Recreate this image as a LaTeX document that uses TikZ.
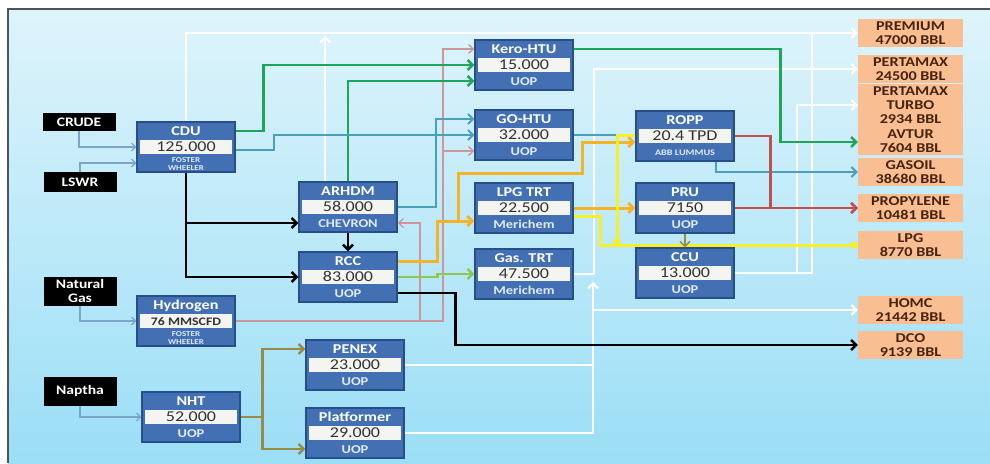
\documentclass[tikz,border=0pt]{standalone}
\usepackage{fontspec}
\setmainfont{Carlito}[FakeStretch=1.2]
\usepackage{tikz}
\usetikzlibrary{arrows.meta}

\definecolor{unitblue}{RGB}{66,112,178}
\definecolor{unitedge}{RGB}{38,78,138}
\definecolor{unitwhite}{RGB}{244,244,240}
\definecolor{valtext}{RGB}{50,50,50}
\definecolor{vendtext}{RGB}{225,235,250}
\definecolor{outorange}{RGB}{249,190,145}
\definecolor{outtext}{RGB}{70,35,15}
\definecolor{bgtop}{RGB}{222,244,251}
\definecolor{bgbottom}{RGB}{155,222,246}
\definecolor{framegray}{RGB}{75,85,90}
\definecolor{feedblue}{RGB}{120,165,200}
\definecolor{kerogreen}{RGB}{30,165,90}
\definecolor{goteal}{RGB}{75,160,185}
\definecolor{hpink}{RGB}{205,150,155}
\definecolor{lpgorange}{RGB}{245,180,40}
\definecolor{lpgyellow}{RGB}{245,240,40}
\definecolor{propred}{RGB}{190,80,78}
\definecolor{naphtholive}{RGB}{150,140,70}
\definecolor{gasgreen}{RGB}{140,200,80}

% process unit: blue box, name band, capacity band, licensor band
\newcommand{\procunit}[6][]{%
  \node[unit] (#2) at (#3) {};
  \node[unittitle] at ([yshift=-9pt]#2.north) {#4};
  \node[unitvalue] at (#2.center) {#5};
  \node[unitvendor,#1] at ([yshift=9pt]#2.south) {#6};
}

\begin{document}
\begin{tikzpicture}[x=1pt, y=-1pt,
  unit/.style={draw=unitedge, line width=1.2pt, fill=unitblue, minimum width=98pt, minimum height=50pt, inner sep=0pt},
  unittitle/.style={text=white, font=\bfseries\fontsize{13.5}{14}\selectfont, inner sep=0pt, text height=9.5pt, text depth=0pt},
  unitvalue/.style={fill=unitwhite, text=valtext, minimum width=92pt, minimum height=14pt, inner sep=0pt, font=\fontsize{15}{15}\selectfont, text height=9.5pt, text depth=0pt},
  unitvendor/.style={text=vendtext, font=\bfseries\fontsize{12}{12}\selectfont, inner sep=0pt, text height=8.5pt, text depth=0pt, align=center},
  smallvendor/.style={text height=, text depth=, font=\bfseries\fontsize{7.5}{8}\selectfont},
  inbox/.style={fill=black, text=white, minimum width=73pt, inner sep=0pt, align=center, font=\bfseries\fontsize{13}{13.5}\selectfont},
  outbox/.style={fill=outorange, text=outtext, minimum width=105pt, minimum height=28pt, inner sep=0pt, align=center, font=\bfseries\fontsize{13.5}{14.5}\selectfont},
  tip/.style={-{Straight Barb[length=5pt,width=10pt]}},
  feed/.style={feedblue, line width=1.2pt, -{Straight Barb[length=4pt,width=8pt]}},
  wline/.style={white, line width=2pt, tip},
  wplain/.style={white, line width=2pt},
  hflow/.style={hpink, line width=1.3pt, -{Straight Barb[length=5pt,width=9pt]}},
  kflow/.style={kerogreen, line width=2.5pt, tip},
  tflow/.style={goteal, line width=2pt, tip},
  bflow/.style={black, line width=2.5pt, tip},
  oflow/.style={lpgorange, line width=3pt, tip},
  yflow/.style={lpgyellow, line width=3pt},
  gflow/.style={gasgreen, line width=2.5pt, tip},
  rflow/.style={propred, line width=2.5pt, tip},
  nflow/.style={naphtholive, line width=2.5pt, tip}
]
% background and frame
\useasboundingbox (0,0) rectangle (990,463);
\fill[white] (0,0) rectangle (990,463);
\shade[top color=bgtop, bottom color=bgbottom] (8,9) rectangle (990,463);
\draw[framegray, line width=2pt] (8,463) -- (8,9) -- (990,9);

% feeds
\node[inbox, minimum height=18pt] (crude) at (79,122) {CRUDE};
\node[inbox, minimum height=20pt] (lswr) at (80,182) {LSWR};
\node[inbox, minimum height=29pt] (natgas) at (80,291) {Natural\\Gas};
\node[inbox, minimum height=29pt] (naptha) at (80,391) {Naptha};

% process units
\procunit[smallvendor]{cdu}{186,147}{CDU}{125.000}{FOSTER\\WHEELER}
\procunit[smallvendor]{hyd}{186,321}{Hydrogen}{\bfseries\fontsize{11.5}{12}\selectfont 76 MMSCFD}{FOSTER\\WHEELER}
\procunit{nht}{191,417}{NHT}{52.000}{UOP}
\procunit{arhdm}{348,207}{ARHDM}{58.000}{CHEVRON}
\procunit{rcc}{348,277}{RCC}{83.000}{UOP}
\procunit{penex}{355,365}{PENEX}{23.000}{UOP}
\procunit{platf}{355,433}{Platformer}{29.000}{UOP}
\procunit{kero}{524,65}{Kero-HTU}{15.000}{UOP}
\procunit{gohtu}{524,135}{GO-HTU}{32.000}{UOP}
\procunit{lpgtrt}{524,208}{LPG TRT}{22.500}{Merichem}
\procunit{gastrt}{524,274}{Gas. TRT}{47.500}{Merichem}
\procunit[font=\bfseries\fontsize{8.5}{8.5}\selectfont, text height=6pt]{ropp}{685,136}{ROPP}{20.4 TPD}{ABB LUMMUS}
\procunit{pru}{685,208}{PRU}{7150}{UOP}
\procunit{ccu}{685,273}{CCU}{13.000}{UOP}

% products
\node[outbox] (premium) at (910.5,33) {PREMIUM\\47000 BBL};
\node[outbox] (pertamax) at (910.5,69) {PERTAMAX\\24500 BBL};
\node[outbox, minimum height=71pt, font=\bfseries\fontsize{13.5}{14.2}\selectfont] (turbo) at (910.5,119.5) {PERTAMAX\\TURBO\\2934 BBL\\AVTUR\\7604 BBL};
\node[outbox] (gasoil) at (910.5,172) {GASOIL\\38680 BBL};
\node[outbox] (propyl) at (910.5,208) {PROPYLENE\\10481 BBL};
\node[outbox] (lpg) at (910.5,245) {LPG\\8770 BBL};
\node[outbox] (homc) at (910.5,310) {HOMC\\21442 BBL};
\node[outbox] (dco) at (910.5,345) {DCO\\9139 BBL};

% feed lines
\draw[feed] (crude.south) |- (cdu.west);
\draw[feed] (lswr.north) |- ([yshift=-16pt]cdu.west);
\draw[feed] (natgas.south) |- (hyd.west);
\draw[feed] (naptha.south) |- (nht.west);

% white product lines
\coordinate (t1) at (325,36);
\coordinate (w1) at (593,282);
\coordinate (w2) at (812,33);
\draw[wline] (cdu.north) |- (premium.west);
\draw[wline] ([xshift=-23pt]arhdm.north) -- (t1);
\draw[wplain] (penex.east) -| (w1);
\draw[wline] (platf.east) -| (w1);
\draw[wline] (gastrt.east) -- ++(20,0) |- (pertamax.west);
\draw[wline] ([yshift=-36pt]gastrt.east) ++(20,0) -- (homc.west);
\draw[wplain] (ccu.east) -| (w2);
\draw[wline] ([xshift=62pt]ccu.east) |- ([yshift=14.5pt]turbo.west);

% hydrogen
\coordinate (h1) at (420,321);
\coordinate (h2) at (443,321);
\draw[hflow] (hyd.east) -- (h2) |- ([yshift=16pt]kero.west);
\draw[hflow] (h2) |- ([yshift=-16pt]gohtu.west);
\draw[hflow] (h1) |- ([yshift=-16pt]arhdm.east);

% kero and gasoil streams
\draw[kflow] ([yshift=16pt]cdu.east) -- ++(28,0) |- (kero.west);
\draw[kflow] (arhdm.north) |- ([yshift=-16pt]kero.west);
\draw[kflow] ([yshift=16pt]kero.east) -- ++(207,0) |- ([yshift=-22.5pt]turbo.west);
\draw[tflow] ([yshift=-3pt]cdu.east) -- ++(38,0) |- (gohtu.west);
\draw[tflow] (arhdm.east) -- ++(38,0) |- ([yshift=16pt]gohtu.west);
\draw[tflow, -] (gohtu.east) -- ([yshift=1pt]ropp.west);
\draw[tflow] ([xshift=31pt]ropp.south) |- (gasoil.west);

% residue
\draw[bflow] (cdu.south) |- ([yshift=-16pt]arhdm.west);
\draw[bflow] (cdu.south) |- (rcc.west);
\draw[bflow] (arhdm.south) -- (rcc.north);
\draw[bflow] ([yshift=-16pt]rcc.east) -- ++(58,0) |- (dco.west);
\draw[gflow] (rcc.east) -- ++(40,0) |- (gastrt.west);

% lpg
\coordinate (o1) at (458,221);
\coordinate (y1) at (617,245);
\draw[oflow] ([yshift=16pt]rcc.east) -- ++(40,0) |- ([yshift=-13pt]lpgtrt.west);
\draw[oflow] (o1) |- (582,173) |- ([yshift=-6pt]ropp.west);
\draw[oflow] (lpgtrt.east) -- (pru.west);
\draw[yflow, -{Circle[length=7pt]}] ([yshift=-8pt]lpgtrt.east) -- ++(27,0) |- (lpg.west);
\draw[yflow, {Circle[length=7pt]}-] (y1) |- ([yshift=1pt]ropp.west);
\draw[rflow] (ropp.east) -- ++(36,0) |- (propyl.west);
\draw[rflow] (pru.east) -- (propyl.west);
\draw[nflow, line width=1.5pt] (pru.south) -- (ccu.north);

% naphtha
\draw[nflow] (nht.east) -- ++(22,0) coordinate (n1) |- ([yshift=16pt]penex.west);
\draw[nflow] (n1) |- ([yshift=-16pt]platf.west);
\end{tikzpicture}
\end{document}
